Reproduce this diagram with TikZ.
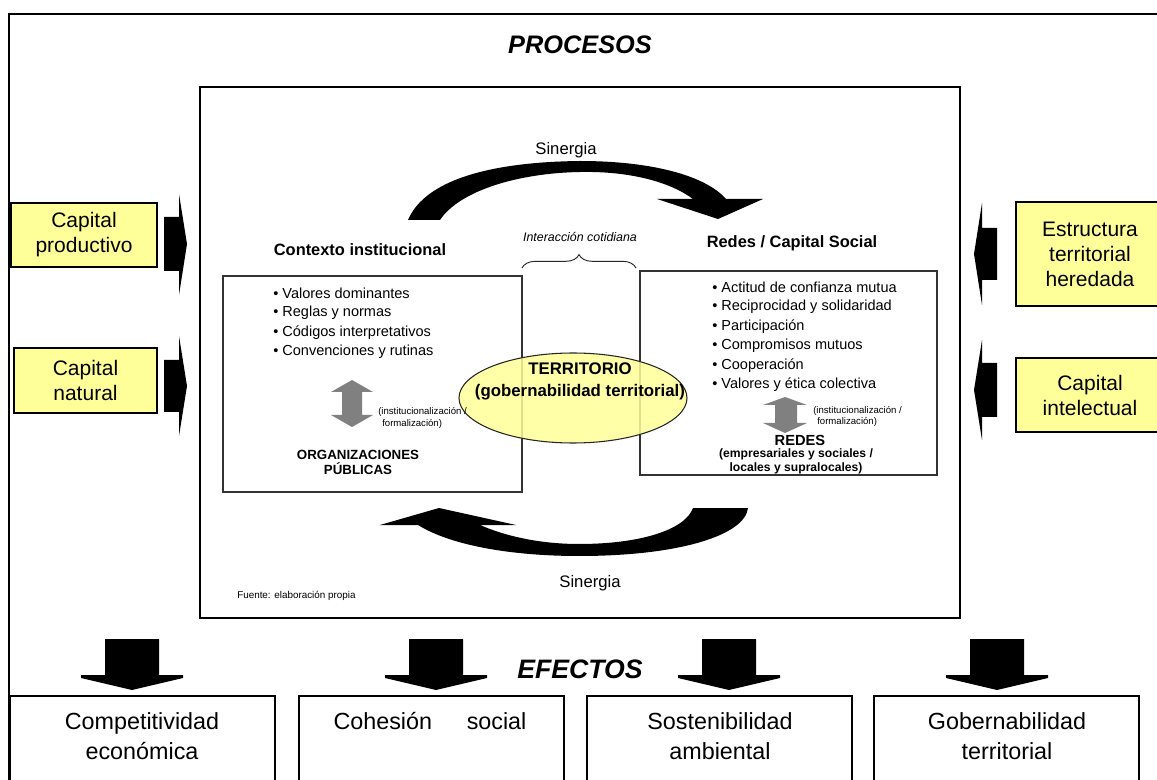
\documentclass[tikz,border=0pt]{standalone}
\usepackage{fontspec}
\setmainfont{Liberation Sans}
\usetikzlibrary{shapes.geometric,decorations.pathreplacing}
\definecolor{ylw}{HTML}{FFFF99}
\definecolor{gry}{HTML}{808080}
\tikzset{
  frame/.style={line width=2.2pt},
  ybox/.style={draw=black, line width=2.2pt, fill=ylw, align=center, inner sep=0pt,
    font=\fontsize{15.75}{18.75}\selectfont},
  tbox/.style={draw=black!80, line width=1pt},
  ebox/.style={draw=black, line width=2pt},
  title/.style={font=\fontsize{19}{23}\selectfont\bfseries\itshape, inner sep=0pt},
  head/.style={font=\fontsize{12.3}{15}\selectfont\bfseries, inner sep=0pt},
  bul/.style={font=\fontsize{10.9}{14}\selectfont, inner sep=0pt, anchor=west},
  small/.style={font=\fontsize{7.2}{9}\selectfont, inner sep=0pt, anchor=west},
  org/.style={font=\fontsize{10}{11.25}\selectfont\bfseries, align=center, inner sep=0pt},
  sub/.style={font=\fontsize{9.1}{10}\selectfont\bfseries, align=center, inner sep=0pt},
  terr/.style={font=\fontsize{12.6}{16.5}\selectfont\bfseries, align=center, inner sep=0pt},
  inter/.style={font=\fontsize{9.3}{11}\selectfont\itshape, inner sep=0pt},
  sin/.style={font=\fontsize{12.5}{15}\selectfont, inner sep=0pt},
  etext/.style={font=\fontsize{17.5}{22.5}\selectfont, align=center, inner sep=0pt},
  blk/.style={fill=black},
}
\begin{document}
\begin{tikzpicture}[x=0.75pt,y=-0.75pt]
\useasboundingbox (0,0) rectangle (1157,780);
\fill[white] (0,0) rectangle (1157,780);

% outer frame
\draw[frame] (9,782) -- (9,14) -- (1160,14);
\node[title] (proc) at (580,45) {PROCESOS};

% inner box
\draw[frame] (200,87) rectangle (960,618);

% yellow boxes
\node[ybox, minimum width=109.5pt, minimum height=48pt] (cprod) at (84,235) {Capital\\productivo};
\node[ybox, minimum width=107.25pt, minimum height=48.75pt] (cnat) at (85.5,380.5) {Capital\\natural};
\node[ybox, minimum width=111pt, minimum height=78pt] (estr) at (1090,254) {Estructura\\territorial\\heredada};
\node[ybox, minimum width=111pt, minimum height=55.5pt] (cint) at (1090,395) {Capital\\intelectual};

% side block arrows
\fill[blk] (164,217) -- (179,217) -- (179,194) -- (187,244) -- (179,295) -- (179,271) -- (164,271) -- cycle;
\fill[blk] (164,360) -- (179,360) -- (179,336) -- (187,386) -- (179,436) -- (179,412) -- (164,412) -- cycle;
\fill[blk] (997,228) -- (982,228) -- (982,203) -- (974,254) -- (982,305) -- (982,280) -- (997,280) -- cycle;
\fill[blk] (997,363) -- (982,363) -- (982,340) -- (974,390) -- (982,440) -- (982,417) -- (997,417) -- cycle;

% top synergy arc
\fill[blk] (408,220) .. controls (425,180) and (490,162) .. (580,161)
  .. controls (650,161) and (705,175) .. (726,199) -- (763,199) -- (718,219) -- (657,199) -- (693,199)
  .. controls (670,182) and (630,171) .. (580,172)
  .. controls (520,173) and (460,190) .. (440,220) -- cycle;
\node[sin] (sin1) at (566,150) {Sinergia};

% bottom synergy arc
\fill[blk] (748,508) .. controls (745,535) and (680,556) .. (579,556)
  .. controls (510,556) and (450,545) .. (418,525) -- (380,525) -- (439,508) -- (516,525) -- (480,525)
  .. controls (510,538) and (545,544) .. (579,544)
  .. controls (640,544) and (685,530) .. (693,508) -- cycle;
\node[sin] (sin2) at (590,583) {Sinergia};
\node[font=\fontsize{7.4}{9}\selectfont, inner sep=0pt, anchor=west] (fuente) at (237,596) {Fuente: elaboración propia};

% headings
\node[head] (ctx) at (360,250) {Contexto institucional};
\node[head] (red) at (792,243) {Redes / Capital Social};
\node[inter] (inter) at (580,237) {Interacción cotidiana};
\draw[decorate, decoration={brace, amplitude=10pt}, line width=0.7pt, black!85] (522,268) -- (636,268);

% text boxes
\draw[tbox] (223,276) rectangle (522,492);
\draw[tbox] (640,271) rectangle (937,475);

\foreach \t [count=\i] in {Valores dominantes, Reglas y normas, Códigos interpretativos, Convenciones y rutinas}
  \node[bul] (lb\i) at (273,{293+19.7*(\i-1)}) {• \t};
\foreach \t [count=\i] in {Actitud de confianza mutua, Reciprocidad y solidaridad, Participación, Compromisos mutuos, Cooperación, Valores y ética colectiva}
  \node[bul] (rb\i) at (712,{287+19.6*(\i-1)}) {• \t};

% grey double arrows
\fill[gry] (352,380) -- (373,392) -- (362,392) -- (362,415) -- (373,415) -- (352,427) -- (331,415) -- (342,415) -- (342,392) -- (331,392) -- cycle;
\fill[gry] (785,397) -- (807,405) -- (797,405) -- (797,423) -- (807,423) -- (785,433) -- (763,423) -- (775,423) -- (775,405) -- (763,405) -- cycle;

\node[org] (orgp) at (358,462.5) {ORGANIZACIONES\\PÚBLICAS};
\node[font=\fontsize{11}{13}\selectfont\bfseries, inner sep=0pt] (redes) at (800,440) {REDES};
\node[sub] (redsub) at (796,461.5) {(empresariales y sociales /\\locales y supralocales)};

% territory ellipse
\node[ellipse, draw=black!85, line width=0.8pt, fill=ylw, fill opacity=0.85, minimum width=171pt, minimum height=67.5pt, inner sep=0pt] (ell) at (573,398) {};
\node[terr] (terr) at (580,381) {TERRITORIO\\(gobernabilidad territorial)};

\node[small] (li1) at (378,412) {(institucionalización /};
\node[small] (li2) at (382,424) {formalización)};
\node[small] (ri1) at (813,411) {(institucionalización /};
\node[small] (ri2) at (817,422) {formalización)};

% effects
\node[font=\fontsize{20}{24}\selectfont\bfseries\itshape, inner sep=0pt] (efec) at (580,669) {EFECTOS};
\foreach \c in {132,436,729,997}
  \fill[blk] ({\c-27},639) -- ({\c+27},639) -- ({\c+27},675) -- ({\c+51},675) -- ({\c+51},678) -- (\c,690) -- ({\c-51},678) -- ({\c-51},675) -- ({\c-27},675) -- cycle;

\draw[ebox] (10,696) rectangle (275,800);
\draw[ebox] (299,696) rectangle (564,800);
\draw[ebox] (587,696) rectangle (852,800);
\draw[ebox] (874,696) rectangle (1139,800);
\node[etext] (e1) at (142,736) {Competitividad\\económica};
\node[etext] (e2) at (430,721) {Cohesión\hspace{26pt}social};
\node[etext] (e3) at (720,736) {Sostenibilidad\\ambiental};
\node[etext] (e4) at (1007,736) {Gobernabilidad\\territorial};
\end{tikzpicture}
\end{document}
